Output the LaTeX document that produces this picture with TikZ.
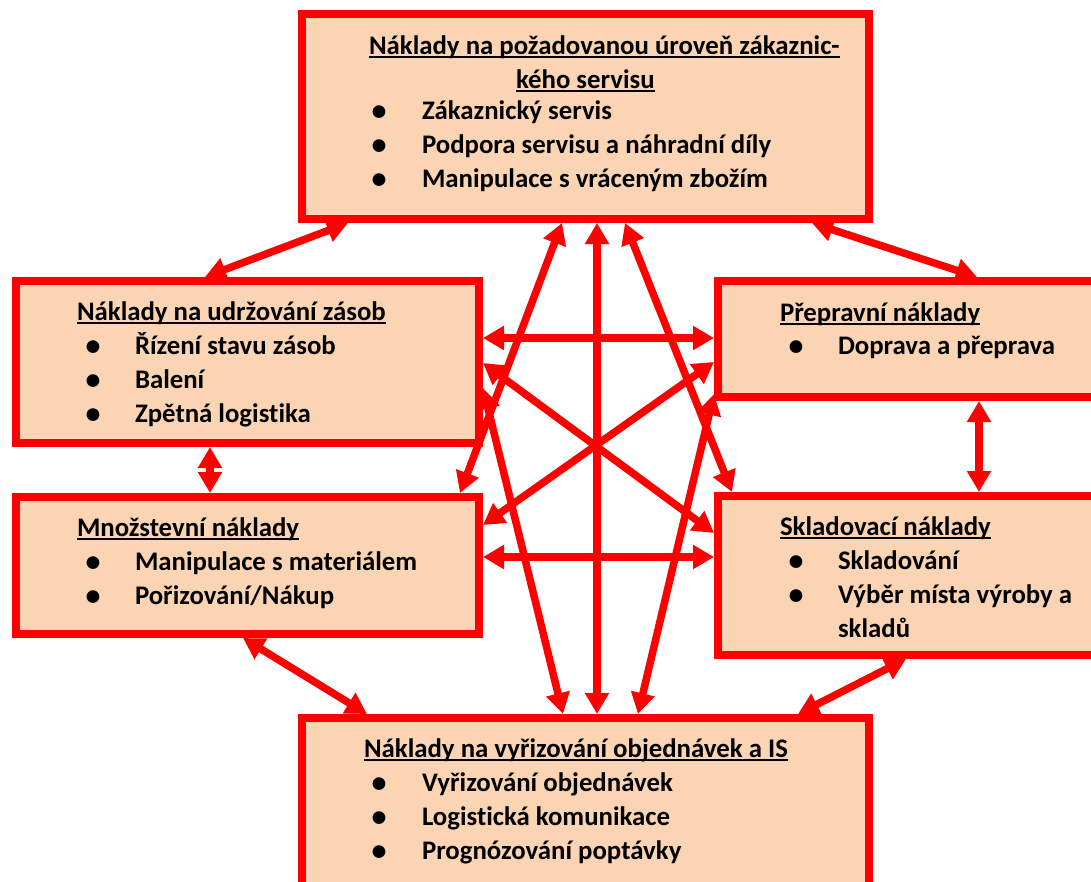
\documentclass[tikz,border=0pt]{standalone}
\usepackage{fontspec}
\setmainfont{Carlito}[Ligatures=NoCommon]
\usetikzlibrary{arrows.meta}
\definecolor{boxred}{RGB}{255,0,0}
\definecolor{peach}{RGB}{251,212,180}
\tikzset{
  box/.style={draw=boxred, line width=8pt, fill=peach, rectangle, inner sep=0pt},
  txt/.style={anchor=base west, inner sep=0pt, outer sep=0pt, font=\fontsize{26.8}{30}\selectfont\bfseries},
  bul/.style={anchor=base, inner sep=0pt, outer sep=0pt, font=\fontsize{30}{30}\selectfont\bfseries},
  uline/.style={line width=1.8pt, black},
  conn/.style={draw=boxred, line width=7.5pt, {Triangle[length=21pt,width=23pt]}-{Triangle[length=21pt,width=23pt]}}
}
\begin{document}
\begin{tikzpicture}[x=1pt,y=-1pt]
\useasboundingbox (0,0) rectangle (1091,881);
\clip (0,0) rectangle (1091,881);
% boxes
\node[box, minimum width=567pt, minimum height=205pt] (top) at (585.5,116.5) {};
\node[box, minimum width=463pt, minimum height=162pt] (left1) at (247.5,362) {};
\node[box, minimum width=463pt, minimum height=137pt] (left2) at (247.5,565.5) {};
\node[box, minimum width=382pt, minimum height=116pt] (right1) at (909,339) {};
\node[box, minimum width=382pt, minimum height=159pt] (right2) at (909,575.5) {};
\node[box, minimum width=567pt, minimum height=182pt] (bottom) at (585.5,809) {};
% top box text
\node[txt] (t0) at (369,54) {Náklady na požadovanou úroveň zákaznic-};
\node[txt] (t0b) at (516,88) {kého servisu};
\node[bul] (tb1) at (379,120) {•};
\node[txt] (t1) at (422,119) {Zákaznický servis};
\node[bul] (tb2) at (379,154) {•};
\node[txt] (t2) at (422,153) {Podpora servisu a náhradní díly};
\node[bul] (tb3) at (379,188) {•};
\node[txt] (t3) at (422,187) {Manipulace s vráceným zbožím};
% left1 text
\node[txt] (l0) at (77,320) {Náklady na udržování zásob};
\node[bul] (lb1) at (93,355) {•};
\node[txt] (l1) at (135,354) {Řízení stavu zásob};
\node[bul] (lb2) at (93,389) {•};
\node[txt] (l2) at (135,388) {Balení};
\node[bul] (lb3) at (93,423) {•};
\node[txt] (l3) at (135,422) {Zpětná logistika};
% left2 text
\node[txt] (m0) at (77,536) {Množstevní náklady};
\node[bul] (mb1) at (93,571) {•};
\node[txt] (m1) at (135,570) {Manipulace s materiálem};
\node[bul] (mb2) at (93,605) {•};
\node[txt] (m2) at (135,604) {Pořizování/Nákup};
% right1 text
\node[txt] (r0) at (780,321) {Přepravní náklady};
\node[bul] (rb1) at (796,355) {•};
\node[txt] (r1) at (838,354) {Doprava a přeprava};
% right2 text
\node[txt] (s0) at (780,535) {Skladovací náklady};
\node[bul] (sb1) at (796,570) {•};
\node[txt] (s1) at (838,569) {Skladování};
\node[bul] (sb2) at (796,604) {•};
\node[txt] (s2) at (838,603) {Výběr místa výroby a};
\node[txt] (s3) at (838,637) {skladů};
% bottom text
\node[txt] (b0) at (364,757) {Náklady na vyřizování objednávek a IS};
\node[bul] (bb1) at (379,792) {•};
\node[txt] (b1) at (422,791) {Vyřizování objednávek};
\node[bul] (bb2) at (379,826) {•};
\node[txt] (b2) at (422,825) {Logistická komunikace};
\node[bul] (bb3) at (379,860) {•};
\node[txt] (b3) at (422,859) {Prognózování poptávky};
% underlines
\foreach \n in {t0,t0b,l0,m0,r0,s0,b0}
  \draw[uline] ([yshift=-3pt]\n.base west) -- ([yshift=-3pt]\n.base east);
% connectors around
\draw[conn] ([xshift=50pt]top.south west) -- ([xshift=193pt]left1.north west);
\draw[conn] ([xshift=514pt]top.south west) -- ([xshift=263pt]right1.north west);
\draw[conn] ([xshift=198pt]left1.south west) -- ([xshift=198pt]left2.north west);
\draw[conn] ([xshift=265pt]right1.south west) -- ([xshift=265pt]right2.north west);
\draw[conn] ([xshift=231pt]left2.south west) -- ([xshift=69pt]bottom.north west);
\draw[conn] ([xshift=192pt]right2.south west) -- ([xshift=500pt]bottom.north west);
% central connectors
\draw[conn] ([xshift=264pt]top.south west) -- ([xshift=448pt]left2.north west);
\draw[conn] ([xshift=299pt]top.south west) -- ([xshift=299pt]bottom.north west);
\draw[conn] ([xshift=327pt]top.south west) -- ([xshift=18pt]right2.north west);
\draw[conn] ([xshift=265pt]bottom.north west) -- ([yshift=-111pt]left1.north east);
\draw[conn] ([xshift=340pt]bottom.north west) -- ([yshift=7pt]right1.south west);
\draw[conn] ([yshift=-61pt]left1.north east) -- ([yshift=-61pt]right1.north west);
\draw[conn] ([yshift=-64pt]left2.north east) -- ([yshift=-65pt]right2.north west);
\draw[conn] ([yshift=-86pt]left1.north east) -- ([yshift=-41pt]right2.north west);
\draw[conn] ([yshift=-85pt]right1.north west) -- ([yshift=-32pt]left2.north east);
\end{tikzpicture}
\end{document}
